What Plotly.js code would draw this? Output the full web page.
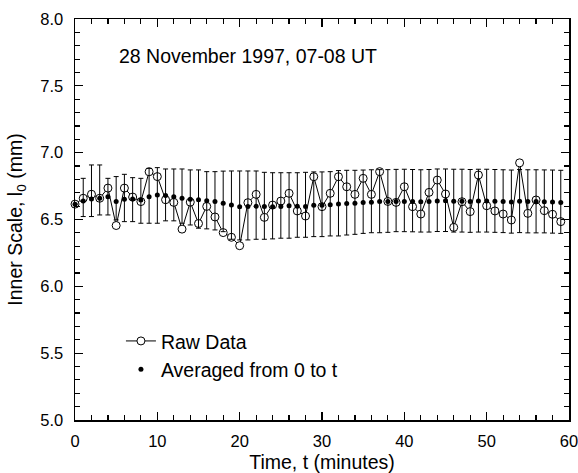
<!DOCTYPE html>
<html>
<head>
<meta charset="utf-8">
<script src="https://cdn.plot.ly/plotly-3.0.1.min.js"></script>
<style>
  html, body { margin: 0; padding: 0; background: #fff; }
  #chart { width: 578px; height: 473px; }
</style>
</head>
<body>
<div id="chart"></div>
<script>
// Time in minutes
const timeMin = [0,1,2,3,4,5,6,7,8,9,10,11,12,13,14,15,16,17,18,19,
  20,21,22,23,24,25,26,27,28,29,30,31,32,33,34,35,36,37,38,39,
  40,41,42,43,44,45,46,47,48,49,50,51,52,53,54,55,56,57,58,59];

// Raw inner scale values (mm)
const rawData = [6.615,6.659,6.689,6.659,6.735,6.455,6.735,6.668,6.634,6.857,
  6.821,6.648,6.628,6.428,6.630,6.470,6.598,6.519,6.402,6.367,
  6.304,6.626,6.688,6.516,6.608,6.638,6.696,6.564,6.526,6.820,
  6.596,6.696,6.820,6.745,6.688,6.808,6.688,6.858,6.635,6.628,
  6.745,6.596,6.541,6.703,6.795,6.691,6.441,6.633,6.559,6.833,
  6.603,6.564,6.541,6.496,6.924,6.546,6.646,6.566,6.539,6.484];

// Averaged from 0 to t (mm)
const averaged = [6.615,6.639,6.654,6.659,6.671,6.634,6.652,6.654,6.646,6.671,
  6.684,6.679,6.671,6.659,6.651,6.648,6.641,6.634,6.621,6.609,
  6.596,6.597,6.600,6.597,6.596,6.598,6.602,6.600,6.598,6.606,
  6.606,6.610,6.616,6.620,6.622,6.627,6.629,6.635,6.635,6.635,
  6.635,6.634,6.632,6.634,6.638,6.640,6.636,6.636,6.634,6.638,
  6.638,6.636,6.634,6.631,6.636,6.634,6.634,6.633,6.631,6.628];

// Upper and lower ends of the error bars (mm)
const barUpper = [null,6.808,6.908,6.908,6.808,6.821,6.838,6.813,6.808,6.883,
  6.888,6.878,6.878,6.878,6.871,6.871,6.858,6.858,6.862,6.863,
  6.863,6.863,6.863,6.853,6.850,6.850,6.850,6.850,6.853,6.856,
  6.856,6.858,6.866,6.868,6.868,6.870,6.872,6.873,6.873,6.875,
  6.876,6.874,6.872,6.874,6.878,6.878,6.876,6.876,6.874,6.876,
  6.876,6.874,6.872,6.870,6.874,6.872,6.872,6.871,6.870,6.868];
const barLower = [null,6.522,6.522,6.534,6.534,6.497,6.484,6.484,6.472,6.472,
  6.472,6.490,6.490,6.472,6.459,6.435,6.430,6.422,6.409,6.352,
  6.347,6.347,6.352,6.352,6.355,6.360,6.360,6.367,6.367,6.372,
  6.372,6.377,6.377,6.384,6.389,6.396,6.401,6.401,6.404,6.409,
  6.409,6.408,6.406,6.406,6.410,6.410,6.406,6.406,6.404,6.406,
  6.406,6.404,6.402,6.398,6.402,6.400,6.400,6.400,6.398,6.396];

const errPlus = averaged.map((v, i) => barUpper[i] === null ? null : barUpper[i] - v);
const errMinus = averaged.map((v, i) => barLower[i] === null ? null : v - barLower[i]);

const FONT = 'Liberation Sans, Arial, Helvetica, sans-serif';

const traces = [
  {
    x: timeMin, y: rawData,
    type: 'scatter', mode: 'lines+markers',
    name: 'Raw Data',
    cliponaxis: false,
    line: { color: '#000', width: 1 },
    marker: { symbol: 'circle', size: 8, color: '#fff', line: { color: '#000', width: 1 } }
  },
  {
    x: timeMin, y: averaged,
    type: 'scatter', mode: 'markers',
    name: 'Averaged from 0 to t',
    cliponaxis: false,
    marker: { symbol: 'circle', size: 5, color: '#000' },
    error_y: {
      type: 'data', symmetric: false,
      array: errPlus, arrayminus: errMinus,
      color: '#000', thickness: 1, width: 2.5
    }
  }
];

const axisCommon = {
  showline: true, linecolor: '#000', linewidth: 1.5,
  mirror: 'allticks', ticks: 'inside', ticklen: 8, tickwidth: 1.2, tickcolor: '#000',
  showgrid: false, zeroline: false,
  ticklabeloverflow: 'allow',
  tickfont: { family: FONT, size: 16.5, color: '#000' }
};

const layout = {
  width: 578, height: 473,
  margin: { l: 75, r: 9, t: 19, b: 53 },
  paper_bgcolor: '#fff', plot_bgcolor: '#fff',
  font: { family: FONT, color: '#000' },
  showlegend: true,
  legend: {
    x: 0.093, y: 0.245, xanchor: 'left', yanchor: 'top',
    bgcolor: 'rgba(0,0,0,0)', borderwidth: 0,
    font: { family: FONT, size: 19.5, color: '#000' },
    tracegroupgap: 0
  },
  xaxis: Object.assign({}, axisCommon, {
    range: [0, 60], dtick: 10, tick0: 0,
    minor: { dtick: 2, ticklen: 5, tickwidth: 1.2, tickcolor: '#000', ticks: 'inside' },
    title: { text: 'Time, t (minutes)', font: { family: FONT, size: 19.5, color: '#000' }, standoff: 14 },
    ticklabelstandoff: 6
  }),
  yaxis: Object.assign({}, axisCommon, {
    range: [5, 8], dtick: 0.5, tick0: 5, tickformat: '.1f',
    minor: { dtick: 0.1, ticklen: 5, tickwidth: 1.2, tickcolor: '#000', ticks: 'inside' },
    title: { text: 'Inner Scale, l<sub>0</sub> (mm)', font: { family: FONT, size: 19.5, color: '#000' }, standoff: 12 },
    ticklabelstandoff: 7
  }),
  annotations: [{
    text: '28 November 1997, 07-08 UT',
    xref: 'paper', yref: 'paper', x: 0.085, y: 0.908,
    xanchor: 'left', yanchor: 'middle', showarrow: false,
    font: { family: FONT, size: 19.5, color: '#000' }
  }]
};

Plotly.newPlot('chart', traces, layout, { displayModeBar: false, staticPlot: true });
</script>
</body>
</html>
